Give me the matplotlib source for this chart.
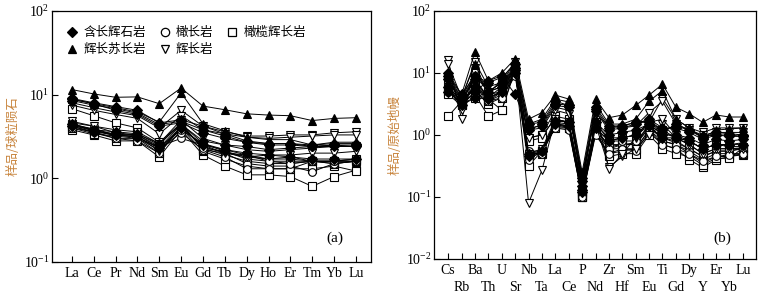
import matplotlib
matplotlib.use('Agg')
import matplotlib.pyplot as plt
from matplotlib.lines import Line2D

plt.rcParams['font.family'] = ['Liberation Serif', 'Noto Sans CJK SC']
plt.rcParams['mathtext.fontset'] = 'stix'

ree = ['La', 'Ce', 'Pr', 'Nd', 'Sm', 'Eu', 'Gd', 'Tb', 'Dy', 'Ho', 'Er', 'Tm', 'Yb', 'Lu']
spider = ['Cs', 'Rb', 'Ba', 'Th', 'U', 'Sr', 'Nb', 'Ta', 'La', 'Ce', 'P', 'Nd', 'Zr',
          'Hf', 'Sm', 'Eu', 'Ti', 'Gd', 'Dy', 'Y', 'Er', 'Yb', 'Lu']

# (a) chondrite normalised REE
ree_diamond = [
    [9.0, 8.0, 7.2, 6.5, 4.6, 5.0, 4.2, 3.4, 2.8, 2.6, 2.6, 2.4, 2.5, 2.4],
    [8.5, 7.5, 6.8, 6.0, 4.4, 4.8, 3.8, 3.2, 2.7, 2.5, 2.5, 2.4, 2.4, 2.4],
    [8.8, 7.8, 6.5, 5.8, 4.2, 4.6, 3.5, 3.0, 2.7, 2.6, 2.6, 2.5, 2.6, 2.6],
    [4.5, 3.8, 3.6, 3.4, 2.6, 4.4, 2.8, 2.5, 2.4, 2.2, 2.3, 2.4, 2.5, 2.5],
    [4.2, 3.6, 3.3, 3.1, 2.3, 4.0, 2.5, 2.2, 2.0, 1.9, 1.8, 1.7, 1.7, 1.7],
]
ree_circle = [
    [4.6, 4.2, 3.5, 3.3, 2.4, 3.0, 2.5, 2.0, 1.5, 1.4, 1.4, 1.2, 1.5, 1.6],
    [4.3, 3.8, 3.2, 3.0, 2.2, 3.5, 2.2, 1.8, 1.3, 1.3, 1.3, 1.6, 1.5, 1.6],
    [4.0, 3.6, 3.0, 2.8, 2.0, 4.2, 2.3, 2.1, 1.8, 1.7, 1.8, 1.6, 1.6, 1.7],
    [4.4, 3.9, 3.3, 3.1, 2.3, 3.8, 2.6, 2.2, 1.9, 1.6, 1.5, 1.6, 1.6, 1.6],
]
ree_square = [
    [6.8, 5.6, 4.6, 4.0, 2.7, 4.5, 2.6, 2.1, 1.7, 1.6, 1.6, 1.6, 1.6, 1.6],
    [3.8, 3.3, 2.8, 2.8, 1.8, 3.8, 1.9, 1.4, 1.1, 1.1, 1.05, 0.8, 1.05, 1.25],
    [4.2, 3.5, 3.0, 3.0, 2.0, 4.0, 2.1, 1.7, 1.4, 1.3, 1.3, 1.3, 1.4, 1.22],
    [4.5, 3.7, 3.3, 3.3, 2.3, 4.4, 2.3, 1.9, 1.6, 1.5, 1.5, 1.6, 1.5, 1.6],
    [4.0, 3.4, 3.2, 3.4, 2.5, 4.6, 2.2, 2.0, 1.9, 1.7, 1.7, 1.6, 1.6, 1.7],
]
ree_triangle = [
    [11.5, 10.2, 9.3, 9.4, 7.8, 12.0, 7.3, 6.6, 5.9, 5.7, 5.6, 4.9, 5.2, 5.3],
    [8.8, 7.8, 7.0, 6.2, 4.7, 10.5, 4.5, 3.7, 3.1, 2.9, 2.9, 2.5, 2.7, 2.7],
]
ree_vtriangle = [
    [8.0, 7.0, 6.2, 5.6, 4.0, 6.5, 4.2, 3.6, 3.2, 3.2, 3.3, 3.3, 3.5, 3.6],
    [7.5, 6.5, 5.8, 5.2, 3.4, 5.6, 3.8, 3.4, 3.1, 3.0, 3.1, 3.2, 3.3, 3.3],
    [4.8, 4.2, 3.8, 3.6, 2.6, 5.0, 3.0, 2.5, 2.2, 2.1, 2.2, 2.3, 2.4, 2.4],
    [4.3, 3.7, 3.4, 3.2, 2.1, 4.2, 2.4, 2.0, 1.8, 1.9, 1.9, 2.0, 2.0, 2.1],
]

# (b) primitive mantle normalised trace elements
pm_diamond = [
    [10, 4.5, 9, 7.0, 8.5, 14, 1.5, 1.6, 3.5, 3.0, 0.2, 2.6, 1.3, 1.4, 1.6, 1.7, 1.2, 1.4, 1.2, 0.95, 1.0, 0.95, 0.95],
    [9, 4.0, 5, 7.5, 9, 4.5, 1.3, 1.4, 3.0, 2.8, 0.18, 2.4, 1.2, 1.3, 1.5, 1.8, 1.3, 1.3, 1.1, 0.85, 1.0, 1.0, 0.95],
    [8, 3.0, 4, 5.0, 7, 12, 1.2, 1.5, 3.2, 3.0, 0.15, 2.8, 1.4, 1.4, 1.6, 1.6, 1.1, 1.5, 1.2, 0.9, 1.1, 1.05, 1.0],
    [6, 3.5, 6, 4.0, 6, 11, 0.5, 0.55, 1.7, 1.6, 0.13, 1.6, 1.0, 1.1, 1.2, 1.5, 1.0, 1.0, 0.9, 0.7, 0.85, 0.8, 0.85],
    [5, 3.8, 8, 3.8, 5, 10, 0.45, 0.55, 1.5, 1.4, 0.12, 1.3, 0.8, 0.9, 1.0, 1.4, 0.9, 0.9, 0.8, 0.6, 0.7, 0.7, 0.7],
]
pm_circle = [
    [6, 3.5, 8, 4, 5, 12, 0.5, 0.5, 1.5, 1.4, 0.14, 1.2, 0.7, 0.7, 0.7, 1.3, 0.9, 0.8, 0.6, 0.45, 0.55, 0.55, 0.6],
    [5, 3.2, 6, 3.5, 4.5, 10, 0.45, 0.5, 1.4, 1.3, 0.12, 1.1, 0.6, 0.6, 0.6, 1.2, 0.8, 0.7, 0.55, 0.4, 0.5, 0.5, 0.5],
    [7, 3.8, 9, 5, 6, 13, 0.55, 0.55, 1.6, 1.5, 0.11, 1.3, 0.8, 0.8, 0.8, 1.4, 1.1, 0.9, 0.7, 0.5, 0.6, 0.6, 0.62],
    [5.5, 3.0, 5, 3.5, 4, 9, 0.4, 0.55, 1.3, 1.2, 0.1, 1.0, 0.5, 0.6, 0.55, 1.1, 0.7, 0.6, 0.5, 0.38, 0.45, 0.48, 0.5],
]
pm_square = [
    [2.0, 3.5, 4.5, 2.0, 2.5, 11, 0.32, 0.55, 1.5, 1.3, 0.1, 1.1, 0.5, 0.55, 0.6, 1.2, 0.7, 0.6, 0.4, 0.3, 0.4, 0.45, 0.48],
    [5.0, 3.2, 4.0, 3.8, 2.5, 12, 0.9, 1.0, 1.8, 1.6, 0.1, 1.4, 0.6, 0.7, 0.7, 1.5, 0.8, 0.7, 0.5, 0.35, 0.45, 0.45, 0.5],
    [4.5, 3.0, 5.0, 3.2, 4.0, 10, 0.45, 0.55, 1.3, 1.3, 0.1, 1.1, 0.45, 0.5, 0.5, 1.0, 0.6, 0.5, 0.45, 0.33, 0.42, 0.42, 0.62],
    [6.0, 3.0, 7, 3.5, 5, 11, 0.5, 0.5, 1.5, 1.4, 0.11, 1.2, 0.65, 0.7, 0.75, 1.3, 0.9, 0.75, 0.6, 0.45, 0.55, 0.55, 0.62],
    [8.0, 4.0, 10, 5.0, 7, 13, 0.8, 0.9, 2.0, 1.8, 0.12, 1.6, 0.8, 0.9, 1.0, 1.6, 1.2, 0.9, 0.8, 0.6, 0.7, 0.65, 0.65],
]
pm_triangle = [
    [9, 4.5, 22, 7.5, 10, 17, 1.8, 2.3, 4.4, 3.8, 0.25, 3.8, 1.9, 2.1, 3.0, 4.4, 6.6, 2.8, 2.2, 1.6, 2.1, 1.95, 1.95],
    [7, 4.0, 14, 4.5, 8, 15, 1.5, 1.8, 3.8, 3.4, 0.22, 3.2, 1.5, 1.5, 1.8, 3.5, 5.2, 1.8, 1.3, 0.9, 1.2, 1.25, 1.3],
]
pm_vtriangle = [
    [16, 1.8, 12, 4.5, 5, 13, 0.08, 0.27, 1.8, 1.6, 0.15, 1.5, 0.3, 0.45, 0.6, 1.0, 1.5, 0.9, 0.7, 0.5, 0.6, 0.6, 0.6],
    [14, 4, 15, 6, 7, 15, 1.2, 1.3, 2.8, 2.5, 0.2, 2.5, 0.28, 0.5, 0.9, 1.6, 3.9, 1.8, 1.3, 1.1, 1.3, 1.3, 1.3],
    [9, 3, 10, 5, 6, 12, 0.9, 1.0, 2.5, 2.2, 0.18, 2.2, 1.4, 1.3, 1.4, 2.3, 3.5, 1.5, 1.2, 1.0, 1.1, 1.1, 1.1],
    [6, 2.5, 7, 4, 5, 10, 0.5, 0.6, 1.8, 1.6, 0.16, 1.5, 0.9, 0.9, 1.0, 1.6, 1.8, 1.0, 0.8, 0.6, 0.7, 0.7, 0.75],
]

# marker, facecolor, label
styles = [
    ('D', 'black', '含长辉石岩'),
    ('o', 'white', '橄长岩'),
    ('s', 'white', '橄榄辉长岩'),
    ('^', 'black', '辉长苏长岩'),
    ('v', 'white', '辉长岩'),
]
ree_groups = [ree_square, ree_circle, ree_vtriangle, ree_diamond, ree_triangle]
pm_groups = [pm_square, pm_circle, pm_vtriangle, pm_diamond, pm_triangle]
order = [2, 1, 4, 0, 3]  # draw order: squares, circles, open tri, diamonds, triangles

fig = plt.figure(figsize=(7.67, 2.97), dpi=100)
ax1 = fig.add_axes([0.068, 0.118, 0.416, 0.845])
ax2 = fig.add_axes([0.566, 0.128, 0.420, 0.835])

label_color = '#c8843c'


def draw(ax, names, groups):
    x = list(range(len(names)))
    for g, k in zip(groups, order):
        m, fc, _ = styles[k]
        ms = 4.6 if m == 'D' else 5.5
        for row in g:
            ax.plot(x, row, color='black', lw=0.7, marker=m, ms=ms,
                    mfc=fc, mec='black', mew=0.8)
    ax.set_yscale('log')
    ax.minorticks_off()
    ax.tick_params(direction='in', length=4, width=0.8, labelsize=10,
                   top=False, right=False)
    ax.tick_params(axis='y', pad=2)
    for s in ax.spines.values():
        s.set_linewidth(0.9)


draw(ax1, ree, ree_groups)
ax1.set_xlim(-0.9, len(ree) - 0.3)
ax1.set_ylim(0.1, 100)
ax1.set_xticks(range(len(ree)))
ax1.set_xticklabels(ree)
ax1.set_ylabel('样品/球粒陨石', color=label_color, fontsize=9,
               family='Noto Sans CJK SC', labelpad=3)
ax1.text(0.887, 0.096, '(a)', transform=ax1.transAxes, fontsize=11,
         ha='center', va='center')

draw(ax2, spider, pm_groups)
ax2.set_xlim(-1.05, len(spider) - 0.0)
ax2.set_ylim(0.01, 100)
# two rows of element names: even ones on major ticks, odd ones on minor ticks
ax2.set_xticks(range(0, len(spider), 2))
ax2.set_xticklabels(spider[0::2])
ax2.set_xticks(range(1, len(spider), 2), minor=True)
ax2.set_xticklabels(spider[1::2], minor=True)
ax2.tick_params(axis='x', which='minor', direction='in', length=4, width=0.8,
                labelsize=10, pad=16)
ax2.tick_params(axis='y', which='minor', left=False)
ax2.set_ylabel('样品/原始地幔', color=label_color, fontsize=9,
               family='Noto Sans CJK SC', labelpad=3)
ax2.text(0.894, 0.085, '(b)', transform=ax2.transAxes, fontsize=11,
         ha='center', va='center')

handles = []
for k in [0, 3, 1, 4, 2]:
    m, fc, lab = styles[k]
    handles.append(Line2D([], [], ls='none', marker=m, ms=6 if m != 'D' else 5,
                          mfc=fc, mec='black', mew=0.9, label=lab))
ax1.legend(handles=handles, ncol=3, loc='upper left', frameon=False,
           prop={'family': 'Noto Sans CJK SC', 'size': 9},
           handletextpad=0.3, columnspacing=0.9, labelspacing=0.35,
           handlelength=1.2, borderaxespad=0.6, bbox_to_anchor=(0.0, 0.99))

fig.savefig('out.png', dpi=100)
